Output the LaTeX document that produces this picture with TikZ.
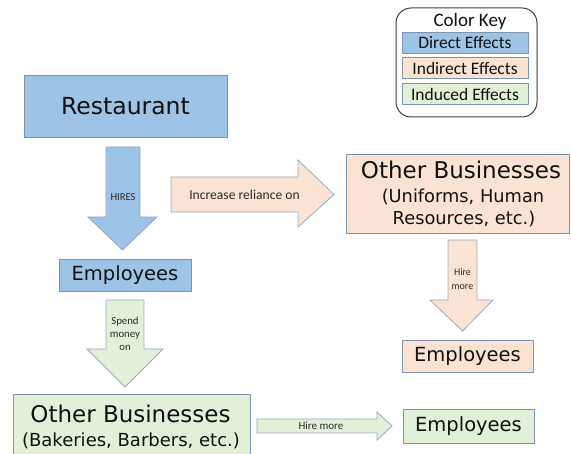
\documentclass[tikz,border=0pt]{standalone}
\usepackage{fontspec}
\setmainfont{DejaVu Sans}
\newfontfamily\keyfont{Carlito}
\definecolor{bluefill}{HTML}{9DC3E6}
\definecolor{orangefill}{HTML}{FBE3D3}
\definecolor{greenfill}{HTML}{E2F0D9}
\definecolor{edgecol}{HTML}{7F93AD}
\definecolor{txt}{HTML}{111111}
\definecolor{lbl}{HTML}{2A2A2A}
\begin{document}
\begin{tikzpicture}[x=1pt,y=-1pt,
  box/.style={draw=edgecol, line width=0.8pt, rectangle, inner sep=0pt, text=txt, align=center},
  bluebox/.style={box, fill=bluefill},
  orangebox/.style={box, fill=orangefill},
  greenbox/.style={box, fill=greenfill},
  bigtxt/.style={text=txt, inner sep=0pt, anchor=base, font=\fontsize{23}{26}\selectfont},
  subtxt/.style={text=txt, inner sep=0pt, anchor=base, font=\fontsize{17.8}{21}\selectfont},
  blockarr/.style={draw=edgecol!80, line width=0.8pt, line join=miter},
  arrlabel/.style={text=lbl, inner sep=0pt, align=center, font=\keyfont},
  keybox/.style={box, font=\keyfont\fontsize{17.5}{20}\selectfont, minimum width=126pt, minimum height=21pt}
]
\useasboundingbox (0,0) rectangle (571,454);
\clip (0,0) rectangle (571,454);

% Color key
\draw[draw=black!75, line width=1pt, rounded corners=15pt, fill=white] (396,8) rectangle (537,117);
\node[text=txt, inner sep=0pt, font=\keyfont\fontsize{19}{22}\selectfont] (keytitle) at (470,21) {Color Key};
\node[keybox, fill=bluefill] (keyD) at (465,42.5) {Direct Effects};
\node[keybox, fill=orangefill] (keyI) at (465,68) {Indirect Effects};
\node[keybox, fill=greenfill] (keyN) at (465,94) {Induced Effects};

% Boxes
\node[bluebox, minimum width=203pt, minimum height=62pt] (rest) at (125.5,106)
  {\fontsize{23.5}{28}\selectfont Restaurant};
\node[bluebox, minimum width=132pt, minimum height=32pt] (emp1) at (125,275)
  {\fontsize{19.5}{23}\selectfont Employees};
\node[orangebox, minimum width=223pt, minimum height=79pt] (ob1) at (457.5,193.5) {};
\node[bigtxt] (ob1a) at (461,179) {Other Businesses};
\node[subtxt] (ob1b) at (463,203) {(Uniforms, Human};
\node[subtxt] (ob1c) at (464,225) {Resources, etc.)};
\node[orangebox, minimum width=131pt, minimum height=32pt] (emp2) at (467.5,356)
  {\fontsize{19.5}{23}\selectfont Employees};
\node[greenbox, minimum width=237pt, minimum height=72pt] (ob2) at (131.5,430) {};
\node[bigtxt] (ob2a) at (130.5,423) {Other Businesses};
\node[subtxt, font=\fontsize{18}{21}\selectfont] (ob2b) at (131,447) {(Bakeries, Barbers, etc.)};
\node[greenbox, minimum width=131pt, minimum height=34pt] (emp3) at (468.5,426)
  {\fontsize{19.5}{23}\selectfont Employees};

% Block arrows
\draw[blockarr, fill=bluefill] (106,147) -- (140,147) -- (140,217) -- (157,217) -- (122.5,250) -- (88,217) -- (106,217) -- cycle;
\node[arrlabel, font=\keyfont\fontsize{10.6}{12}\selectfont] (lhires) at (123,197) {HIRES};

\draw[blockarr, fill=orangefill] (171,177) -- (298,177) -- (298,160) -- (334,194.5) -- (298,227) -- (298,212) -- (171,212) -- cycle;
\node[arrlabel, font=\keyfont\fontsize{13.6}{15}\selectfont] (lrel) at (244.5,195) {Increase reliance on};

\draw[blockarr, fill=orangefill] (448,240) -- (477,240) -- (477,300) -- (493,300) -- (462.5,331) -- (430,300) -- (448,300) -- cycle;
\node[arrlabel, font=\keyfont\fontsize{10}{14}\selectfont] (lhire1) at (462.5,279) {Hire\\more};

\draw[blockarr, fill=greenfill] (106,300) -- (144,300) -- (144,349) -- (163,349) -- (125,387) -- (87,349) -- (106,349) -- cycle;
\node[arrlabel, font=\keyfont\fontsize{10.8}{13}\selectfont] (lspend) at (125,334) {Spend\\money\\on};

\draw[blockarr, fill=greenfill] (257,419) -- (377,419) -- (377,412) -- (392,426) -- (377,440) -- (377,433) -- (257,433) -- cycle;
\node[arrlabel, font=\keyfont\fontsize{11}{13}\selectfont] (lhire2) at (321,426) {Hire more};
\end{tikzpicture}
\end{document}
